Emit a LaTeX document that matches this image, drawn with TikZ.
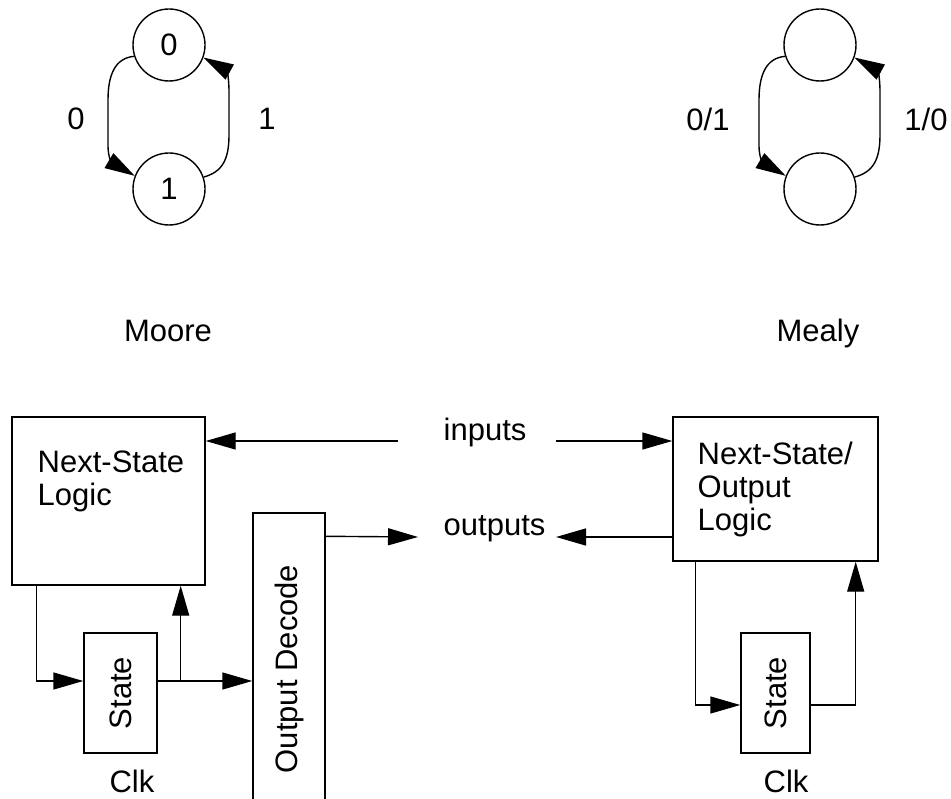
\documentclass[tikz,border=0pt]{standalone}
\usepackage{fontspec}
\setmainfont{Liberation Sans}
\usetikzlibrary{arrows.meta}

\begin{document}
\begin{tikzpicture}[x=1pt,y=-1pt,line width=1.4pt,
  font=\fontsize{31}{33}\selectfont,
  st/.style={draw,circle,minimum size=72pt,inner sep=0pt},
  blk/.style={draw,rectangle,inner sep=0pt},
  arr/.style={-{Triangle[length=30pt,width=17pt]}},
  txt/.style={inner sep=0pt}]
  \useasboundingbox (0,0) rectangle (951,799);
  \clip (0,0) rectangle (951,799);

  % Moore machine
  \node[st] (m0) at (169,45) {0};
  \node[st] (m1) at (169,189) {1};
  \draw[arr] (m0.198) .. controls (115,58) and (108,75) .. (108,100) -- (108,145) .. controls (108,160) and (113,163) .. (m1.159);
  \draw[arr] (m1.19) .. controls (222,172) and (229,160) .. (229,135) -- (229,92) .. controls (229,75) and (226,70) .. (m0.-20);
  \node[txt] (m0lbl) at (76,119) {0};
  \node[txt] (m1lbl) at (267,119) {1};
  \node[txt,anchor=base] (moore) at (168,342) {Moore};

  % Mealy machine
  \node[st] (e0) at (820,45) {};
  \node[st] (e1) at (820,189) {};
  \draw[arr] (e0.198) .. controls (766,58) and (759,75) .. (759,100) -- (759,145) .. controls (759,160) and (764,163) .. (e1.159);
  \draw[arr] (e1.19) .. controls (873,172) and (880,160) .. (880,135) -- (880,92) .. controls (880,75) and (877,70) .. (e0.-20);
  \node[txt] (e0lbl) at (708,119) {0/1};
  \node[txt] (e1lbl) at (926,119) {1/0};
  \node[txt,anchor=base] (mealy) at (818,342) {Mealy};

  % Moore block diagram
  \node[blk,minimum width=193,minimum height=168] (ns) at (108.5,501) {};
  \node[txt,anchor=north west,align=left] (nslbl) at (37,450) {Next-State\\Logic};
  \node[blk,minimum width=73,minimum height=120] (sl) at (120.5,693) {\rotatebox{90}{State}};
  \node[blk,minimum width=72,minimum height=312] (dec) at (289,669) {\rotatebox{90}{Output Decode}};
  \node[txt,anchor=base] (clkl) at (132,792) {Clk};
  \draw[arr] ([xshift=25pt]ns.south west) |- ([yshift=12pt]sl.west);
  \draw[arr] ([yshift=12pt]sl.east) -- ([yshift=12pt]sl.east -| dec.west);
  \draw[arr] ([yshift=12pt]sl.east) ++(23,0) coordinate (tap) -- (tap |- ns.south);

  % signals
  \coordinate (ifrom) at (398,441);
  \coordinate (ito) at (556,441);
  \coordinate (ofrom) at (556,537);
  \coordinate (oto) at (418,537);
  \node[txt,anchor=base west] (inputs) at (443,441) {inputs};
  \node[txt,anchor=base west] (outputs) at (443,536) {outputs};
  \draw[arr] (ifrom) -- (ifrom -| ns.east);
  \draw[arr] ([yshift=-24pt]dec.north east) -- (oto);

  % Mealy block diagram
  \node[blk,minimum width=205,minimum height=144] (nso) at (775.5,489) {};
  \node[txt,anchor=north west,align=left] (nsolbl) at (697,441) {Next-State/\\Output\\Logic};
  \node[blk,minimum width=69,minimum height=120] (sr) at (775.5,693) {\rotatebox{90}{State}};
  \node[txt,anchor=base] (clkr) at (786,792) {Clk};
  \draw[arr] (ito) -- (ito -| nso.west);
  \draw[arr] (ofrom -| nso.west) -- (ofrom);
  \draw[arr] ([xshift=23pt]nso.south west) |- ([yshift=-12pt]sr.west);
  \draw[arr] ([yshift=-12pt]sr.east) -| ([xshift=-23pt]nso.south east);
\end{tikzpicture}
\end{document}
